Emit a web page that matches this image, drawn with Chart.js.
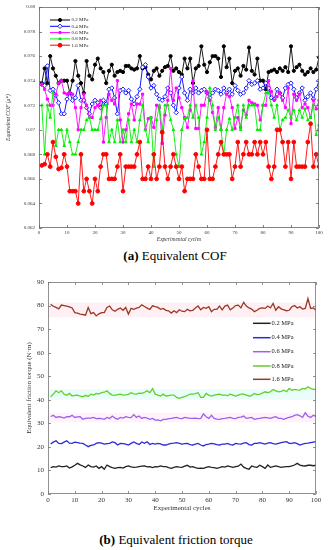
<!DOCTYPE html>
<html><head><meta charset="utf-8">
<script src="https://cdn.jsdelivr.net/npm/chart.js@4.4.0/dist/chart.umd.min.js"></script>
<style>
html,body{margin:0;padding:0;background:#fff;width:328px;height:550px;overflow:hidden;position:relative}
canvas{position:absolute;left:0}
.cap{position:absolute;font-family:"Liberation Serif",serif;color:#000;white-space:nowrap;transform:translateX(-50%);line-height:1}
</style></head><body>
<canvas id="c1" width="328" height="244" style="top:0;width:328px;height:244px"></canvas>
<div class="cap" style="left:175px;top:249px;font-size:13px"><b>(a)</b> Equivalent COF</div>
<canvas id="c2" width="328" height="245" style="top:270px;width:328px;height:245px"></canvas>
<div class="cap" style="left:176px;top:533px;font-size:13px"><b>(b)</b> Equivalent friction torque</div>
<script>
// ---------- DATA ----------
const cycles = Array.from({length:100},(_, i)=>i+1);
const seriesLabels = ['0.2 MPa','0.4 MPa','0.6 MPa','0.8 MPa','1.6 MPa'];
const xTicks = [0,10,20,30,40,50,60,70,80,90,100];
const cofTicks = [0.062,0.064,0.066,0.068,0.07,0.072,0.074,0.076,0.078,0.08];
const torqueTicks = [0,10,20,30,40,50,60,70,80,90];

const cof02 = [0.0738,0.0750,0.0738,0.0760,0.0750,0.0744,0.0738,0.0740,0.0740,0.0740,0.0730,0.0740,0.0756,0.0744,0.0738,0.0730,0.0756,0.0744,0.0741,0.0753,0.0758,0.0750,0.0747,0.0738,0.0748,
0.0753,0.0744,0.0747,0.0748,0.0747,0.0752,0.0752,0.0750,0.0749,0.0750,0.0760,0.0750,0.0751,0.0745,0.0741,0.0748,0.0750,0.0744,0.0748,0.0751,0.0752,0.0760,0.0748,0.0750,0.0747,
0.0745,0.0758,0.0750,0.0758,0.0738,0.0750,0.0752,0.0768,0.0753,0.0747,0.0755,0.0760,0.0760,0.0758,0.0743,0.0768,0.0751,0.0758,0.0738,0.0748,0.0750,0.0744,0.0752,0.0749,0.0767,
0.0748,0.0745,0.0758,0.0740,0.0740,0.0733,0.0747,0.0748,0.0749,0.0747,0.0750,0.0748,0.0751,0.0747,0.0768,0.0748,0.0751,0.0753,0.0748,0.0745,0.0747,0.0750,0.0747,0.0749,0.0759];
const cof04 = [0.0737,0.0736,0.0752,0.0732,0.0733,0.0728,0.0722,0.0713,0.0713,0.0725,0.0730,0.0724,0.0726,0.0736,0.0724,0.0724,0.0718,0.0713,0.0721,0.0724,0.0722,0.0718,0.0724,0.0721,0.0733,
0.0734,0.0726,0.0713,0.0732,0.0733,0.0730,0.0732,0.0725,0.0721,0.0727,0.0733,0.0751,0.0753,0.0743,0.0734,0.0736,0.0729,0.0725,0.0724,0.0727,0.0734,0.0730,0.0720,0.0714,0.0734,
0.0743,0.0730,0.0724,0.0733,0.0730,0.0734,0.0730,0.0732,0.0733,0.0730,0.0726,0.0730,0.0733,0.0732,0.0729,0.0734,0.0730,0.0733,0.0729,0.0736,0.0732,0.0729,0.0730,0.0734,0.0740,
0.0737,0.0738,0.0740,0.0733,0.0734,0.0738,0.0734,0.0726,0.0725,0.0733,0.0730,0.0726,0.0734,0.0737,0.0738,0.0733,0.0726,0.0730,0.0734,0.0724,0.0727,0.0730,0.0725,0.0733,0.0740];
const cof06 = [0.0737,0.0733,0.0725,0.0720,0.0720,0.0729,0.0738,0.0740,0.0730,0.0729,0.0730,0.0729,0.0718,0.0700,0.0718,0.0729,0.0720,0.0710,0.0710,0.0718,0.0720,0.0724,0.0690,0.0710,0.0729,
0.0724,0.0721,0.0740,0.0708,0.0690,0.0700,0.0713,0.0721,0.0708,0.0721,0.0721,0.0729,0.0700,0.0709,0.0710,0.0702,0.0720,0.0718,0.0689,0.0712,0.0724,0.0750,0.0724,0.0734,0.0726,
0.0718,0.0710,0.0702,0.0716,0.0740,0.0701,0.0701,0.0720,0.0720,0.0731,0.0724,0.0714,0.0702,0.0718,0.0700,0.0718,0.0729,0.0727,0.0718,0.0701,0.0710,0.0702,0.0716,0.0712,0.0724,
0.0722,0.0721,0.0720,0.0708,0.0720,0.0720,0.0740,0.0731,0.0724,0.0727,0.0730,0.0724,0.0718,0.0734,0.0705,0.0729,0.0724,0.0729,0.0718,0.0721,0.0718,0.0710,0.0724,0.0717,0.0724];
const cof08 = [0.0720,0.0680,0.0720,0.0710,0.0730,0.0687,0.0700,0.0700,0.0687,0.0700,0.0690,0.0680,0.0680,0.0690,0.0700,0.0700,0.0708,0.0710,0.0700,0.0700,0.0700,0.0709,0.0720,0.0720,0.0690,
0.0700,0.0690,0.0708,0.0690,0.0700,0.0690,0.0708,0.0690,0.0700,0.0690,0.0708,0.0720,0.0700,0.0690,0.0710,0.0670,0.0708,0.0720,0.0700,0.0720,0.0720,0.0708,0.0700,0.0680,0.0670,
0.0700,0.0709,0.0710,0.0720,0.0710,0.0720,0.0710,0.0680,0.0690,0.0710,0.0734,0.0720,0.0700,0.0710,0.0700,0.0680,0.0700,0.0709,0.0700,0.0710,0.0720,0.0700,0.0720,0.0710,0.0720,
0.0720,0.0720,0.0700,0.0700,0.0720,0.0730,0.0730,0.0720,0.0710,0.0720,0.0700,0.0708,0.0710,0.0716,0.0710,0.0716,0.0708,0.0716,0.0710,0.0717,0.0708,0.0710,0.0720,0.0696,0.0704];
const cof16 = [0.0671,0.0672,0.0680,0.0670,0.0690,0.0678,0.0668,0.0669,0.0680,0.0670,0.0650,0.0650,0.0650,0.0640,0.0680,0.0650,0.0660,0.0650,0.0640,0.0660,0.0650,0.0670,0.0680,0.0680,0.0660,
0.0660,0.0660,0.0670,0.0680,0.0650,0.0670,0.0670,0.0670,0.0670,0.0680,0.0690,0.0660,0.0660,0.0670,0.0660,0.0680,0.0660,0.0670,0.0698,0.0670,0.0660,0.0670,0.0680,0.0670,0.0660,
0.0670,0.0650,0.0660,0.0660,0.0660,0.0680,0.0670,0.0660,0.0660,0.0700,0.0660,0.0660,0.0670,0.0680,0.0690,0.0680,0.0680,0.0680,0.0660,0.0670,0.0690,0.0670,0.0680,0.0690,0.0680,
0.0680,0.0690,0.0680,0.0690,0.0680,0.0690,0.0670,0.0660,0.0670,0.0700,0.0700,0.0690,0.0670,0.0690,0.0660,0.0690,0.0670,0.0670,0.0670,0.0670,0.0690,0.0705,0.0670,0.0680,0.0670];

const tq02 = [11.2,11.6,11.4,11.9,11.6,11.6,11.9,11.0,11.5,12.2,13.0,12.4,11.9,11.3,12.3,11.6,11.4,11.9,10.9,11.6,
10.5,12.3,11.6,11.2,10.9,11.2,11.3,11.0,11.6,11.9,11.5,11.3,11.4,11.6,11.8,11.9,11.5,11.6,11.2,11.6,
11.5,11.9,11.6,11.6,11.2,10.9,11.3,11.6,11.4,11.3,11.8,12.2,11.4,11.6,11.2,10.9,11.0,10.9,11.3,11.6,
11.3,11.2,10.9,11.2,11.6,11.4,11.9,11.6,11.3,11.6,11.8,12.7,11.4,10.9,10.5,11.9,11.5,11.3,12.2,11.6,
10.9,12.3,11.3,11.6,11.9,11.6,11.3,11.5,11.6,11.6,11.9,12.3,13.0,12.3,12.0,11.9,12.2,12.2,12.0,12.2];
const tq04 = [21.3,22.0,22.6,21.5,21.4,22.0,22.6,21.6,21.5,22.0,21.8,21.6,21.5,20.8,20.1,20.6,20.8,21.5,21.8,21.6,
21.2,21.4,21.5,22.1,21.8,20.8,21.5,21.4,21.2,20.8,21.5,22.1,21.5,21.0,22.1,21.5,22.2,21.0,21.5,21.2,
21.5,21.3,20.8,20.8,21.2,21.5,21.6,21.8,21.5,21.2,21.4,21.5,21.0,20.8,21.2,21.5,20.8,20.4,21.0,21.2,
21.5,21.3,21.0,20.8,21.2,21.2,21.5,21.0,20.8,21.5,21.3,21.2,21.6,21.8,21.0,20.8,21.5,21.5,21.8,21.5,
21.2,21.6,21.8,21.4,21.2,21.5,21.8,22.0,22.2,21.5,21.5,21.8,21.4,20.8,21.2,21.5,21.6,21.8,22.0,22.2];
const tq06 = [32.9,33.4,32.5,32.8,32.6,32.2,32.8,32.8,33.4,32.5,32.7,32.8,31.7,32.1,32.2,32.2,32.5,32.0,32.1,32.0,
31.7,32.5,32.1,33.1,32.2,31.7,32.5,32.2,32.8,32.5,32.4,33.7,32.5,33.1,32.1,32.5,32.2,31.7,32.1,31.4,
31.5,31.1,31.7,31.7,32.0,32.1,32.3,32.5,32.1,32.0,32.5,32.3,32.1,32.1,32.2,32.0,32.1,34.0,32.8,32.1,
33.4,32.1,31.8,31.7,32.0,32.1,32.3,32.5,32.1,32.0,32.5,32.6,33.1,32.1,32.3,32.5,31.7,32.0,32.1,32.3,
32.5,32.3,32.1,32.5,32.8,32.1,32.1,31.7,32.2,32.5,32.8,33.4,33.7,33.2,32.5,34.5,33.0,32.5,33.4,33.0];
const tq08 = [41.3,42.4,43.8,43.0,43.8,42.4,41.9,42.7,41.6,41.9,42.0,41.5,41.3,41.9,41.4,42.4,42.0,42.7,42.5,43.0,
43.2,43.8,42.7,42.0,41.9,42.2,42.4,42.0,42.1,42.3,43.0,42.5,42.4,42.8,42.7,43.2,43.8,43.0,44.8,42.4,
42.0,41.6,42.4,41.6,41.8,42.0,42.0,41.0,40.6,41.0,41.3,41.8,42.4,42.4,42.6,43.0,41.0,41.0,42.7,42.0,
41.6,42.0,42.2,42.4,42.0,42.0,41.8,42.4,42.0,41.6,42.0,42.4,42.4,42.0,41.6,41.8,42.7,42.2,42.4,42.8,
43.4,43.0,43.4,44.4,43.8,43.4,43.6,44.1,43.4,44.8,44.0,44.4,44.2,44.1,44.8,44.6,45.5,44.8,44.4,44.4];
const tq16 = [80.5,79.7,79.2,78.6,80.2,80.0,79.8,79.4,79.0,77.0,76.8,76.4,76.2,75.9,79.2,76.6,77.0,75.6,76.5,77.0,
77.0,79.2,79.8,78.2,77.6,78.4,79.0,78.0,79.2,76.4,78.8,78.4,78.9,79.2,80.3,79.6,78.9,78.4,79.9,79.5,
79.2,78.4,78.8,78.0,77.8,76.8,77.8,77.0,78.2,77.6,77.4,78.4,77.8,78.0,79.0,79.8,78.2,79.2,78.8,79.5,
77.4,78.4,78.4,79.8,78.2,79.8,80.2,78.2,79.0,80.0,80.2,79.0,81.4,79.8,79.0,78.5,77.4,78.0,78.8,79.0,
78.8,79.8,79.0,80.9,78.0,79.5,78.6,78.2,77.8,78.0,79.5,80.0,79.0,79.5,78.5,78.8,83.0,78.8,79.0,78.0];

// shaded scatter bands (lower, upper) for the torque plot
const bandCycles = [0, 100];
const band16 = [75.0, 81.2];
const band08 = [40.0, 44.5];
const band06 = [30.5, 34.5];

// ---------- HELPERS ----------
const pts = arr => arr.map((v,i)=>({x:cycles[i], y:v}));
const flat = (v) => bandCycles.map(c=>({x:c, y:v}));
const SERIF = '"Liberation Serif", "Times New Roman", serif';

const framePlugin = {
  id:'frame',
  afterDatasetsDraw(chart, args, o){
    const {ctx, chartArea:a, scales:{x, y}} = chart;
    ctx.save();
    ctx.strokeStyle = o.color; ctx.lineWidth = o.width;
    ctx.strokeRect(a.left+0.5, a.top+0.5, a.right-a.left-1, a.bottom-a.top-1);
    ctx.beginPath();
    const L = o.len;
    x.ticks.forEach(t=>{ const p = Math.round(x.getPixelForValue(t.value))+0.5;
      ctx.moveTo(p, a.bottom); ctx.lineTo(p, a.bottom-L); ctx.moveTo(p, a.top); ctx.lineTo(p, a.top+L); });
    y.ticks.forEach(t=>{ const p = Math.round(y.getPixelForValue(t.value))+0.5;
      ctx.moveTo(a.left, p); ctx.lineTo(a.left+L, p); ctx.moveTo(a.right, p); ctx.lineTo(a.right-L, p); });
    ctx.stroke();
    // legend
    const lg = o.legend;
    let k = 0;
    chart.data.datasets.forEach(ds=>{
      if (ds.noLegend) return;
      const yy = lg.ys[k++];
      ctx.strokeStyle = ds.borderColor; ctx.lineWidth = lg.lineWidth;
      ctx.beginPath(); ctx.moveTo(lg.x0, yy); ctx.lineTo(lg.x1, yy); ctx.stroke();
      if (ds.pointRadius > 0) {
        ctx.fillStyle = ds.pointBackgroundColor; ctx.strokeStyle = ds.pointBorderColor || ds.borderColor;
        ctx.lineWidth = ds.pointBorderWidth || 1;
        Chart.helpers.drawPoint(ctx, {pointStyle: ds.pointStyle, radius: ds.pointRadius, rotation: 0, borderWidth: ds.pointBorderWidth||1}, (lg.x0+lg.x1)/2, yy);
      }
      ctx.fillStyle = '#222'; ctx.font = lg.font; ctx.textBaseline = 'middle'; ctx.textAlign = 'left';
      ctx.fillText(ds.label, lg.tx, yy);
    });
    ctx.restore();
  }
};

function axisX(h, fontSize, titleFont, titlePad){
  return {
    type:'linear', min:0, max:100,
    afterBuildTicks: s => { s.ticks = xTicks.map(v=>({value:v})); },
    afterFit: s => { s.height = h; },
    grid:{display:false, drawTicks:false}, border:{display:false},
    ticks:{font:{family:SERIF, size:fontSize}, color:'#333', padding:2, maxRotation:0, autoSkip:false},
    title:{display:true, text:'Experimental cycles', font:titleFont, color:'#333', padding:titlePad}
  };
}

// ---------- CHART (a) ----------
const markerSet = [
  {c:'#000000', s:'circle', r:1.6, bg:'#000000', bw:1},
  {c:'#0000ff', s:'rectRot', r:2.2, bg:'#ffffff', bw:0.9},
  {c:'#ff00ff', s:'rect', r:1.5, bg:'#ff00ff', bw:1},
  {c:'#00ee00', s:'triangle', r:1.5, bg:'#00ee00', bw:1},
  {c:'#ff0000', s:'circle', r:1.9, bg:'#ff0000', bw:1}
];
const cofSeries = [cof02, cof04, cof06, cof08, cof16];
new Chart(document.getElementById('c1'), {
  type:'line',
  data:{datasets: cofSeries.map((arr,i)=>({
    label: seriesLabels[i], data: pts(arr), borderColor: markerSet[i].c, borderWidth:0.9,
    pointStyle: markerSet[i].s, pointRadius: markerSet[i].r, pointBackgroundColor: markerSet[i].bg,
    pointBorderColor: markerSet[i].c, pointBorderWidth: markerSet[i].bw, fill:false, tension:0, order: 5-i
  }))},
  options:{
    responsive:false, animation:false, devicePixelRatio:1,
    layout:{padding:{left:0, right:9, top:6, bottom:0}},
    plugins:{legend:{display:false}, tooltip:{enabled:false},
      frame:{color:'#666', width:0.8, len:3,
        legend:{x0:50, x1:70, tx:71.5, ys:[20,26.3,32.6,38.9,45.2], font:'5px '+SERIF, lineWidth:1}}},
    scales:{
      x: axisX(16, 5, {family:SERIF, size:5.5, style:'italic'}, {top:0, bottom:1.5}),
      y: {
        min:0.062, max:0.08,
        afterBuildTicks: s => { s.ticks = cofTicks.map(v=>({value:v})); },
        afterFit: s => { s.width = 39; },
        grid:{display:false, drawTicks:false}, border:{display:false},
        ticks:{font:{family:SERIF, size:5}, color:'#333', padding:4,
          callback: v => String(parseFloat(v.toFixed(3)))},
        title:{display:true, text:'Equivalent COF (μ*)', font:{family:SERIF, size:5.5, style:'italic'}, color:'#333', padding:{top:5, bottom:0}}
      }
    }
  },
  plugins:[framePlugin]
});

// ---------- CHART (b) ----------
const tqColors = ['#222222','#2a2ad8','#a35ee8','#5fd12a','#9a3a22'];
const tqSeries = [tq02, tq04, tq06, tq08, tq16];
const bandDs = (lo, hi, col) => ([
  {data: flat(lo), borderColor:'rgba(0,0,0,0)', borderWidth:0, pointRadius:0, fill:false, noLegend:true, order:20},
  {data: flat(hi), borderColor:'rgba(0,0,0,0)', borderWidth:0, pointRadius:0, fill:'-1', backgroundColor:col, noLegend:true, order:20}
]);
new Chart(document.getElementById('c2'), {
  type:'line',
  data:{datasets: [
    ...tqSeries.map((arr,i)=>({label: seriesLabels[i], data: pts(arr), borderColor: tqColors[i], borderWidth:1.3,
      pointRadius:0, fill:false, tension:0, order:i})),
    ...bandDs(band16[0], band16[1], 'rgba(255,200,222,0.28)'),
    ...bandDs(band08[0], band08[1], 'rgba(190,250,235,0.32)'),
    ...bandDs(band06[0], band06[1], 'rgba(250,200,242,0.24)')
  ]},
  options:{
    responsive:false, animation:false, devicePixelRatio:1,
    layout:{padding:{left:0, right:12, top:12, bottom:0}},
    plugins:{legend:{display:false}, tooltip:{enabled:false},
      frame:{color:'#777', width:0.8, len:3,
        legend:{x0:253, x1:270.5, tx:271.5, ys:[323.3,337.7,351.7,366,379.3].map(v=>v-270), font:'6.5px '+SERIF, lineWidth:1.5}}},
    scales:{
      x: axisX(21, 7, {family:SERIF, size:7}, {top:0, bottom:2.8}),
      y: {
        min:0, max:90,
        afterBuildTicks: s => { s.ticks = torqueTicks.map(v=>({value:v})); },
        afterFit: s => { s.width = 48; },
        grid:{display:false, drawTicks:false}, border:{display:false},
        ticks:{font:{family:SERIF, size:7}, color:'#333', padding:4},
        title:{display:true, text:'Equivalent friction torque (N·m)', font:{family:SERIF, size:7}, color:'#333', padding:{top:25, bottom:0}}
      }
    }
  },
  plugins:[framePlugin]
});
</script>
</body></html>
